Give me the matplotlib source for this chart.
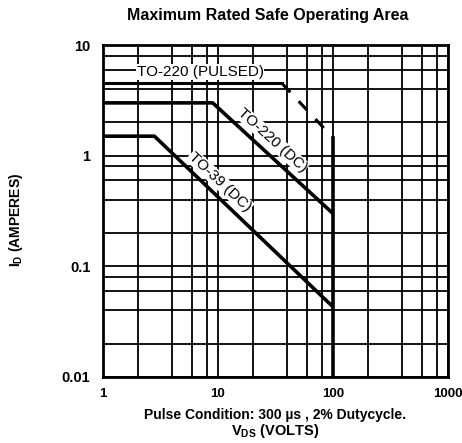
import matplotlib
matplotlib.use('Agg')
import matplotlib.pyplot as plt

# safe operating area curves
to220_dc_v = [1, 9, 100]
to220_dc_i = [3.0, 3.0, 0.3]
to39_dc_v = [1, 2.8, 100]
to39_dc_i = [1.5, 1.5, 0.043]
pulsed_v = [1, 36]
pulsed_i = [4.5, 4.5]
pulsed_dash_v = [36, 100]
pulsed_dash_i = [4.5, 1.45]
vmax_v = [100, 100]
vmax_i = [1.45, 0.01]

xticks = [1, 10, 100, 1000]
xlabels = ['1', '10', '100', '1000']
yticks = [0.01, 0.1, 1, 10]
ylabels = ['0.01', '0.1', '1', '10']
minor_steps = [2, 4, 6, 8]

plt.rcParams['font.family'] = ['Liberation Sans', 'DejaVu Sans']
plt.rcParams['mathtext.fontset'] = 'custom'
plt.rcParams['mathtext.rm'] = 'Liberation Sans:bold'
plt.rcParams['mathtext.it'] = 'Liberation Sans:bold'

fig = plt.figure(figsize=(4.62, 4.43), dpi=100)
ax = fig.add_axes([0.2229, 0.149, 0.7468, 0.7494])
ax.set_xscale('log')
ax.set_yscale('log')
ax.set_xlim(1, 1000)
ax.set_ylim(0.01, 10)

ax.set_xticks(xticks)
ax.set_xticklabels(xlabels)
ax.set_yticks(yticks)
ax.set_yticklabels(ylabels)
ax.set_xticks([s * d for d in [1, 10, 100] for s in minor_steps], minor=True)
ax.set_yticks([s * d for d in [0.01, 0.1, 1] for s in minor_steps], minor=True)
ax.set_xticklabels([], minor=True)
ax.set_yticklabels([], minor=True)
ax.tick_params(which='both', length=0)
ax.tick_params(axis='x', pad=8, labelsize=9.5)
ax.tick_params(axis='y', pad=9, labelsize=10.5)
for lab in ax.get_xticklabels() + ax.get_yticklabels():
    lab.set_fontweight('bold')

ax.grid(True, which='both', color='black', linewidth=1.3)
for sp in ax.spines.values():
    sp.set_linewidth(2)

ax.plot(to220_dc_v, to220_dc_i, color='black', lw=2.6, solid_capstyle='butt', zorder=4)
ax.plot(to39_dc_v, to39_dc_i, color='black', lw=2.6, solid_capstyle='butt', zorder=4)
ax.plot(pulsed_v, pulsed_i, color='black', lw=2.2, zorder=4)
ax.plot(pulsed_dash_v, pulsed_dash_i, color='black', lw=2.2, dashes=(4, 4), zorder=4)
ax.plot(vmax_v, vmax_i, color='black', lw=2.6, zorder=4)

box = dict(facecolor='white', edgecolor='none', pad=0.5)
ax.text(7.0, 5.7, 'TO-220 (PULSED)', fontsize=11, ha='center', va='center', bbox=box, zorder=5)
ax.text(29.5, 1.39, 'TO-220 (DC)', fontsize=11, ha='center', va='center',
        rotation=-42, rotation_mode='anchor', bbox=box, zorder=5)
ax.text(10.4, 0.58, 'TO-39 (DC)', fontsize=11, ha='center', va='center',
        rotation=-43, rotation_mode='anchor', bbox=box, zorder=5)

fig.text(0.58, 0.966, 'Maximum Rated Safe Operating Area', fontsize=11.5,
         fontweight='bold', ha='center', va='center')
fig.text(0.595, 0.063, 'Pulse Condition: 300 µs , 2% Dutycycle.', fontsize=10,
         fontweight='bold', ha='center', va='center')
fig.text(0.595, 0.028, r'V$_{\mathrm{DS}}$ (VOLTS)', fontsize=10.5,
         fontweight='bold', ha='center', va='center')
fig.text(0.035, 0.503, r'I$_{\mathrm{D}}$ (AMPERES)', fontsize=10,
         fontweight='bold', ha='center', va='center', rotation=90)

fig.savefig('out.png', dpi=100)
